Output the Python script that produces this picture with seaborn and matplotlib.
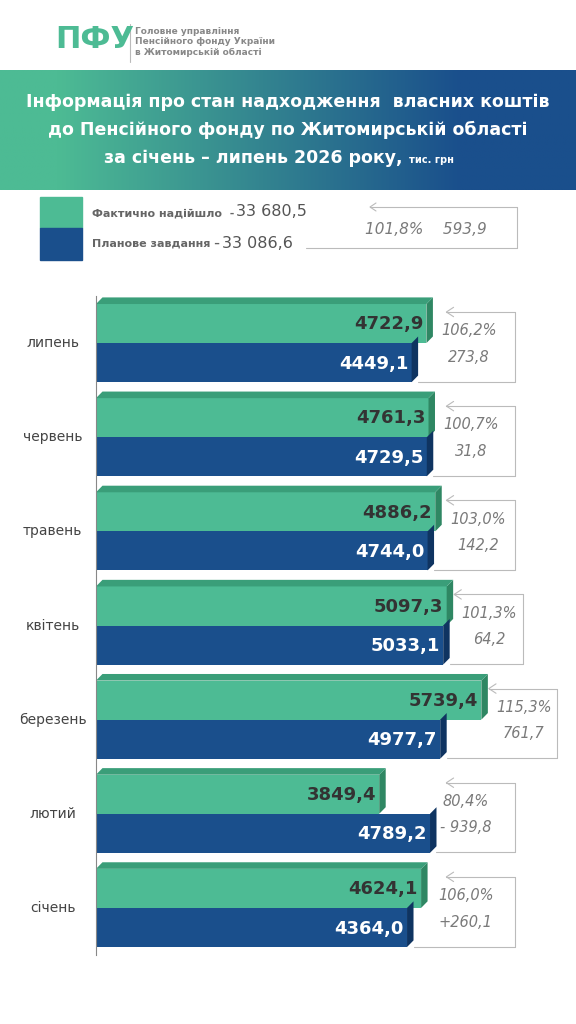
import numpy as np
import pandas as pd
import matplotlib
matplotlib.use("Agg")
import matplotlib.pyplot as plt
from matplotlib.patches import Polygon, Rectangle
import seaborn as sns

months = ["липень", "червень", "травень", "квітень", "березень", "лютий", "січень"]
fact = [4722.9, 4761.3, 4886.2, 5097.3, 5739.4, 3849.4, 4624.1]
plan = [4449.1, 4729.5, 4744.0, 5033.1, 4977.7, 4789.2, 4364.0]
pct = ["106,2%", "100,7%", "103,0%", "101,3%", "115,3%", "80,4%", "106,0%"]
diff = ["273,8", "31,8", "142,2", "64,2", "761,7", "- 939,8", "+260,1"]
fact_lbl = ["4722,9", "4761,3", "4886,2", "5097,3", "5739,4", "3849,4", "4624,1"]
plan_lbl = ["4449,1", "4729,5", "4744,0", "5033,1", "4977,7", "4789,2", "4364,0"]

GREEN = "#4dbb94"
BLUE = "#1a4f8c"
GREEN_D = "#2f8763"
BLUE_D = "#0f3461"
GRAY = "#7a7a7a"

sns.set_theme(style="white")
FAM = ["DejaVu Sans Condensed", "DejaVu Sans"]
plt.rcParams["font.family"] = FAM

fig = plt.figure(figsize=(5.76, 10.24), dpi=100)

# header band gradient
hax = fig.add_axes([0, 1 - 190 / 1024, 1, 120 / 1024])
g = np.linspace(0, 1, 256)
c1 = np.array(matplotlib.colors.to_rgb(GREEN))
c2 = np.array(matplotlib.colors.to_rgb(BLUE))
w = np.clip((g - 0.1) / 0.7, 0, 1)[:, None]
img = (c1 * (1 - w) + c2 * w)[None, :, :]
hax.imshow(img, aspect="auto", extent=[0, 1, 0, 1])
hax.set_axis_off()
hax.text(0.5, 0.73, "Інформація про стан надходження  власних коштів", ha="center", va="center",
         color="white", fontsize=12.5, fontweight="bold")
hax.text(0.5, 0.5, "до Пенсійного фонду по Житомирській області", ha="center", va="center",
         color="white", fontsize=12.5, fontweight="bold")
hax.text(0.44, 0.27, "за січень – липень 2026 року,", ha="center", va="center",
         color="white", fontsize=12.5, fontweight="bold")
hax.text(0.71, 0.25, "тис. грн", ha="left", va="center", color="white", fontsize=7, fontweight="bold")

# logo
fig.text(55 / 576, 1 - 40 / 1024, "ПФУ", color=GREEN, fontsize=22, fontweight="bold", va="center", ha="left")
fig.add_artist(plt.Line2D([130 / 576, 130 / 576], [1 - 24 / 1024, 1 - 62 / 1024], color="#bbbbbb", lw=0.8))
fig.text(135 / 576, 1 - 42 / 1024, "Головне управління\nПенсійного фонду України\nв Житомирській області",
         color="#888888", fontsize=6.5, va="center", ha="left", fontweight="bold", linespacing=1.15)

# legend block
fig.add_artist(Rectangle((40 / 576, 1 - 228 / 1024), 42 / 576, 31 / 1024, transform=fig.transFigure, color=GREEN))
fig.add_artist(Rectangle((40 / 576, 1 - 260 / 1024), 42 / 576, 32 / 1024, transform=fig.transFigure, color=BLUE))
fig.text(92 / 576, 1 - 214 / 1024, "Фактично надійшло  -", color="#666666", fontsize=8, fontweight="bold", va="center")
fig.text(236 / 576, 1 - 212 / 1024, "33 680,5", color="#555555", fontsize=11.5, va="center")
fig.text(92 / 576, 1 - 244 / 1024, "Планове завдання –", color="#666666", fontsize=8, fontweight="bold", va="center")
fig.text(222 / 576, 1 - 243 / 1024, "33 086,6", color="#555555", fontsize=11.5, va="center")
fig.text(365 / 576, 1 - 229 / 1024, "101,8%    593,9", color=GRAY, fontsize=11, style="italic", va="center")
for xs, ys in [([306, 517], [248, 248]), ([517, 517], [248, 207]), ([517, 370], [207, 207])]:
    fig.add_artist(plt.Line2D([x / 576 for x in xs], [1 - y / 1024 for y in ys], color="#bbbbbb", lw=0.8))
fig.add_artist(plt.Line2D([376 / 576, 370 / 576, 376 / 576], [1 - 203 / 1024, 1 - 207 / 1024, 1 - 211 / 1024], color="#bbbbbb", lw=0.8))

# main chart
ax = fig.add_axes([96 / 576, 1 - 955 / 1024, 480 / 576, 659 / 1024])
df = pd.DataFrame({"month": months * 2, "value": fact + plan,
                   "series": ["Фактично"] * 7 + ["План"] * 7})
sns.barplot(data=df, x="value", y="month", hue="series", orient="h", ax=ax,
            palette=[GREEN, BLUE], width=0.83, dodge=True, legend=False, saturation=1,
            linewidth=0, edgecolor="none")
ax.set_xlim(-1390, 7490)
ax.set_ylim(6.5, -0.5)
ax.set_xlabel(""); ax.set_ylabel("")
ax.set_xticks([]); ax.set_yticks([])
for s in ["top", "right", "bottom"]:
    ax.spines[s].set_visible(False)
ax.spines["left"].set_color("#888888")
ax.spines["left"].set_linewidth(0.8)

xmin = -1390
dx = 120
dy = 0.07
for p in list(ax.patches):
    x0 = xmin
    x1 = p.get_x() + p.get_width()
    y0 = p.get_y()
    h = p.get_height()
    fc = p.get_facecolor()
    green = abs(fc[1] - matplotlib.colors.to_rgb(GREEN)[1]) < 0.05
    dark = GREEN_D if green else BLUE_D
    p.set_x(x0); p.set_width(x1 - x0); p.set_linewidth(0)
    ax.add_patch(Polygon([[x1, y0], [x1 + dx, y0 - dy], [x1 + dx, y0 + h - dy], [x1, y0 + h]],
                         closed=True, color=dark, lw=0))
    if green:
        ax.add_patch(Polygon([[x0 + dx, y0 - dy], [x1 + dx, y0 - dy], [x1, y0], [x0, y0]],
                             closed=True, color="#3a9e79", lw=0))

tr = ax.get_yaxis_transform()
to_frac = lambda v: ax.transAxes.inverted().transform(ax.transData.transform((v, 0)))[0]
for i in range(7):
    ax.text(-0.09, i, months[i], transform=tr, ha="center", va="center", color="#444444", fontsize=10)
    ax.text(fact[i] - 60, i - 0.2, fact_lbl[i], ha="right", va="center", color="#333333", fontsize=13, fontweight="bold")
    ax.text(plan[i] - 60, i + 0.22, plan_lbl[i], ha="right", va="center", color="white", fontsize=13, fontweight="bold")
    cx = max(0.77, to_frac(fact[i] + dx) + 0.075)
    rx = max(0.873, cx + 0.07)
    ax.text(cx, i - 0.13, pct[i], transform=tr, ha="center", va="center", color=GRAY, fontsize=10.5, style="italic")
    ax.text(cx, i + 0.15, diff[i], transform=tr, ha="center", va="center", color=GRAY, fontsize=10.5, style="italic")
    xb = to_frac(plan[i] + dx)
    ax.plot([xb, rx], [i + 0.41, i + 0.41], transform=tr, color="#bbbbbb", lw=0.8, clip_on=False)
    ax.plot([rx, rx], [i + 0.41, i - 0.33], transform=tr, color="#bbbbbb", lw=0.8, clip_on=False)
    ax.plot([rx, rx - 0.143], [i - 0.33, i - 0.33], transform=tr, color="#bbbbbb", lw=0.8, clip_on=False)
    ax.plot([rx - 0.128, rx - 0.143, rx - 0.128], [i - 0.38, i - 0.33, i - 0.28], transform=tr,
            color="#bbbbbb", lw=0.8, clip_on=False)

fig.savefig("out.png", dpi=100)
